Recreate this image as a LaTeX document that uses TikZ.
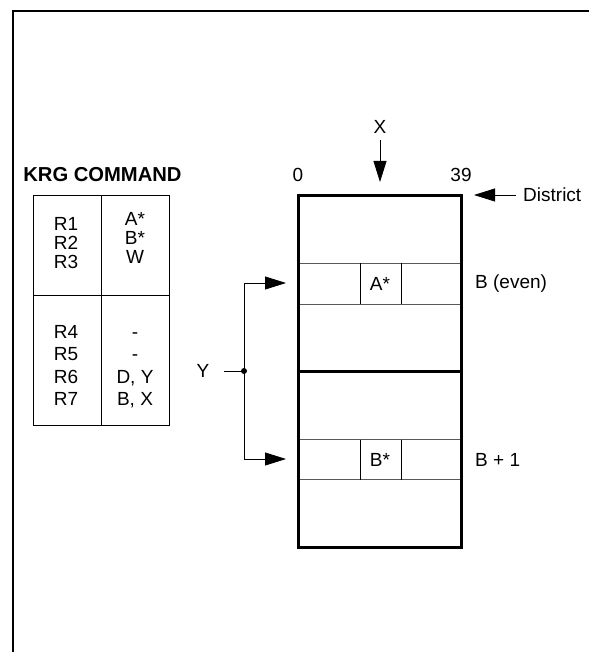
\documentclass[tikz,border=0pt]{standalone}
\usepackage{fontspec}
\setmainfont{Liberation Sans}
\usetikzlibrary{arrows.meta}
\begin{document}
\begin{tikzpicture}[x=1pt,y=-1pt,
  lbl/.style={inner sep=0pt,font=\fontsize{19}{22}\selectfont},
  tl/.style={lbl,anchor=base},
  thinln/.style={line width=0.8pt},
  rowln/.style={line width=1pt,black!65},
  big/.style={line width=3pt},
  tip/.style={-{Triangle[length=21pt,width=13pt]},line width=0.8pt}]
\useasboundingbox (0,0) rectangle (589,652);
% frame
\draw[line width=2pt] (13,652) -- (13,11) -- (589,11);
% KRG table
\node[lbl,font=\fontsize{20.2}{23}\selectfont\bfseries] (krg) at (102.5,175) {KRG COMMAND};
\node[draw,thinln,minimum width=135.7pt,minimum height=229.3pt,inner sep=0pt] (tbl) at (101.2,310.4) {};
\coordinate (tmt) at (101.3,195.7);
\coordinate (tmb) at (101.3,425);
\draw[thinln] (tmt) -- (tmb);
\coordinate (thl) at (33.3,295.7);
\coordinate (thr) at (169,295.7);
\draw[thinln] (thl) -- (thr);
\node[tl] (r1) at (66,230.5) {R1};
\node[tl] (r2) at (66,249.5) {R2};
\node[tl] (r3) at (66,268) {R3};
\node[tl] (v1) at (135,225.5) {A*};
\node[tl] (v2) at (135,244.5) {B*};
\node[tl] (v3) at (135,263) {W};
\node[tl] (r4) at (66,338) {R4};
\node[tl] (r5) at (66,360.5) {R5};
\node[tl] (r6) at (66,383.5) {R6};
\node[tl] (r7) at (66,405) {R7};
\node[tl] (v4) at (135,338) {-};
\node[tl] (v5) at (135,360.5) {-};
\node[tl] (v6) at (135,383.5) {D, Y};
\node[tl] (v7) at (135,405) {B, X};
% main district box
\draw[rowln] (298,263) -- (461,263) (298,304) -- (461,304);
\draw[rowln] (298,439.5) -- (461,439.5) (298,479.5) -- (461,479.5);
\draw[thinln] (360,263) -- (360,304) (401,263) -- (401,304);
\draw[thinln] (360,439.5) -- (360,479.5) (401,439.5) -- (401,479.5);
\draw[big] (298,371) -- (461,371);
\draw[big] (298,196) rectangle (461,547);
\node[lbl] (astar) at (380,283.5) {A*};
\node[lbl] (bstar) at (380,459.5) {B*};
\node[lbl] (zero) at (298,175) {0};
\node[lbl] (n39) at (461,175) {39};
\node[lbl] (xl) at (380,127) {X};
\coordinate (xs) at (380,140);
\coordinate (xe) at (380,182);
\draw[tip] (xs) -- (xe);
\node[lbl,anchor=west] (dist) at (523,195) {District};
\coordinate (ds) at (516,195);
\coordinate (de) at (474,195);
\draw[tip] (ds) -- (de);
\node[lbl,anchor=west] (beven) at (475,283.5) {B (even)};
\node[lbl,anchor=west] (bone) at (475,459.5) {B + 1};
% Y selector
\node[lbl] (yl) at (203,371) {Y};
\coordinate (dot) at (244,371);
\coordinate (ys) at (224,371);
\coordinate (ta) at (286,283);
\coordinate (tb) at (286,459);
\draw[thinln] (ys) -- (dot);
\draw[tip] (dot) |- (ta);
\draw[tip] (dot) |- (tb);
\fill (dot) circle (3pt);
\end{tikzpicture}
\end{document}
